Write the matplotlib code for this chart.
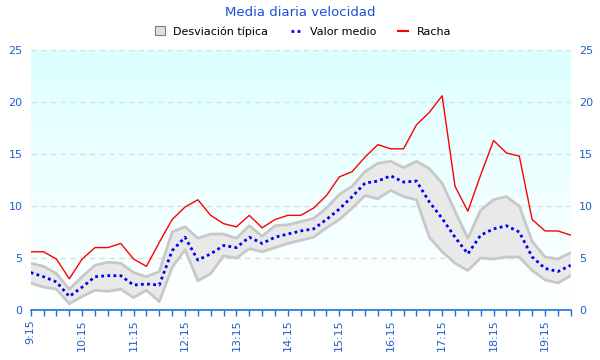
import numpy as np
import matplotlib
matplotlib.use("Agg")
import matplotlib.pyplot as plt
from matplotlib.patches import Patch
from matplotlib.lines import Line2D
from matplotlib.colors import LinearSegmentedColormap

# ── Datos (lecturas cada 15 minutos, 9:15 → 19:45) ──────────────────────────
horas = ["9:15", "9:30", "9:45",
         "10:00", "10:15", "10:30", "10:45", "11:00", "11:15", "11:30", "11:45",
         "12:00", "12:15", "12:30", "12:45", "13:00", "13:15", "13:30", "13:45",
         "14:00", "14:15", "14:30", "14:45", "15:00", "15:15", "15:30", "15:45",
         "16:00", "16:15", "16:30", "16:45", "17:00", "17:15", "17:30", "17:45",
         "18:00", "18:15", "18:30", "18:45", "19:00", "19:15", "19:30", "19:45"]

racha = [5.6, 5.6, 4.9, 3.0, 4.9, 6.0, 6.0, 6.4, 4.9, 4.2, 6.5,
         8.7, 9.9, 10.6, 9.1, 8.3, 8.0, 9.1, 7.9, 8.7, 9.1, 9.1,
         9.8, 11.0, 12.8, 13.3, 14.7, 15.9, 15.5, 15.5, 17.8, 19.0,
         20.6, 11.9, 9.5, 13.0, 16.3, 15.1, 14.8, 8.7, 7.6, 7.6, 7.2]

media = [3.6, 3.2, 2.7, 1.3, 2.2, 3.2, 3.3, 3.3, 2.4, 2.5, 2.4,
         5.7, 7.0, 4.8, 5.4, 6.2, 6.0, 7.0, 6.4, 7.0, 7.3, 7.6,
         7.8, 8.7, 9.7, 10.9, 12.2, 12.4, 12.9, 12.3, 12.4, 10.4,
         8.8, 7.0, 5.4, 7.2, 7.8, 8.1, 7.5, 5.1, 4.0, 3.7, 4.3]

desv_sup = [4.5, 4.2, 3.5, 2.0, 3.2, 4.3, 4.6, 4.5, 3.6, 3.2, 3.7,
            7.5, 8.0, 6.9, 7.3, 7.3, 6.9, 8.1, 7.1, 8.1, 8.2, 8.5,
            8.8, 9.8, 11.1, 11.9, 13.3, 14.1, 14.3, 13.7, 14.3, 13.6,
            12.2, 9.5, 6.9, 9.6, 10.6, 10.9, 10.0, 6.6, 5.1, 4.9, 5.5]

desv_inf = [2.6, 2.2, 2.0, 0.6, 1.3, 1.9, 1.8, 2.0, 1.2, 1.9, 0.8,
            4.1, 5.8, 2.8, 3.5, 5.2, 5.0, 5.9, 5.6, 6.0, 6.4, 6.7,
            7.0, 7.9, 8.7, 9.8, 11.0, 10.7, 11.5, 10.9, 10.6, 7.0,
            5.6, 4.5, 3.8, 5.0, 4.9, 5.1, 5.1, 3.8, 2.9, 2.6, 3.3]

AZUL_TXT = "#1f5fcf"
AZUL_EJE = "#1a6fd8"

x = np.arange(len(horas))

# ── Figura ───────────────────────────────────────────────────────────────────
fig = plt.figure(figsize=(6, 3.6), dpi=100)
ax = fig.add_axes([0.0512, 0.1389, 0.9, 0.7222])

# fondo degradado cian -> blanco
fondo = LinearSegmentedColormap.from_list("fondo", ["#ffffff", "#dcffff"])
grad = np.linspace(0, 1, 256).reshape(-1, 1)
ax.imshow(grad, cmap=fondo, origin="lower", aspect="auto",
          extent=[x[0], x[-1], 0, 25], zorder=0)

for v in [5, 10, 15, 20, 25]:
    ax.axhline(v, color="#dddddd", lw=1, ls=(0, (4, 3)), zorder=1)

ax.fill_between(x, desv_inf, desv_sup, facecolor="#e9e9e9", edgecolor="none", zorder=2)
ax.plot(x, desv_sup, color="#c8c8c8", lw=2, zorder=3)
ax.plot(x, desv_inf, color="#c8c8c8", lw=2, zorder=3)
ax.plot(x, media, color="#0000ee", lw=2, ls=(0, (1, 1.2)), zorder=4)
ax.plot(x, racha, color="#ff0000", lw=1, zorder=5)

ax.set_xlim(x[0], x[-1])
ax.set_ylim(0, 25)
ax.set_yticks([0, 5, 10, 15, 20, 25])
ax.set_xticks(x)
ax.set_xticklabels([h if i % 4 == 0 else "" for i, h in enumerate(horas)],
                   rotation=90, color=AZUL_TXT, fontsize=8)
ax.tick_params(axis="x", direction="out", length=4, color=AZUL_EJE, width=1, pad=3)
ax.tick_params(axis="y", length=0, labelcolor=AZUL_TXT, labelsize=8,
               labelleft=True, labelright=True, pad=6)
for lado in ["left", "right", "top"]:
    ax.spines[lado].set_visible(False)
ax.spines["bottom"].set_color(AZUL_EJE)
ax.spines["bottom"].set_linewidth(1.2)
ax.set_facecolor("white")

fig.text(0.5, 0.965, "Media diaria velocidad", ha="center", va="center",
         color="#1a4fd6", fontsize=9.5)

manejadores = [
    Patch(facecolor="#e0e0e0", edgecolor="#808080", linewidth=0.8),
    Line2D([], [], color="#0000ee", lw=2, ls=(0, (1, 1.2))),
    Line2D([], [], color="#ff0000", lw=1.5),
]
fig.legend(manejadores, ["Desviación típica", "Valor medio", "Racha"],
           loc="center", bbox_to_anchor=(0.505, 0.913), ncol=3, frameon=False,
           fontsize=8, handlelength=0.9, handleheight=0.8, handletextpad=0.8,
           columnspacing=2.0)

plt.savefig("out.png", dpi=100)
plt.close()
